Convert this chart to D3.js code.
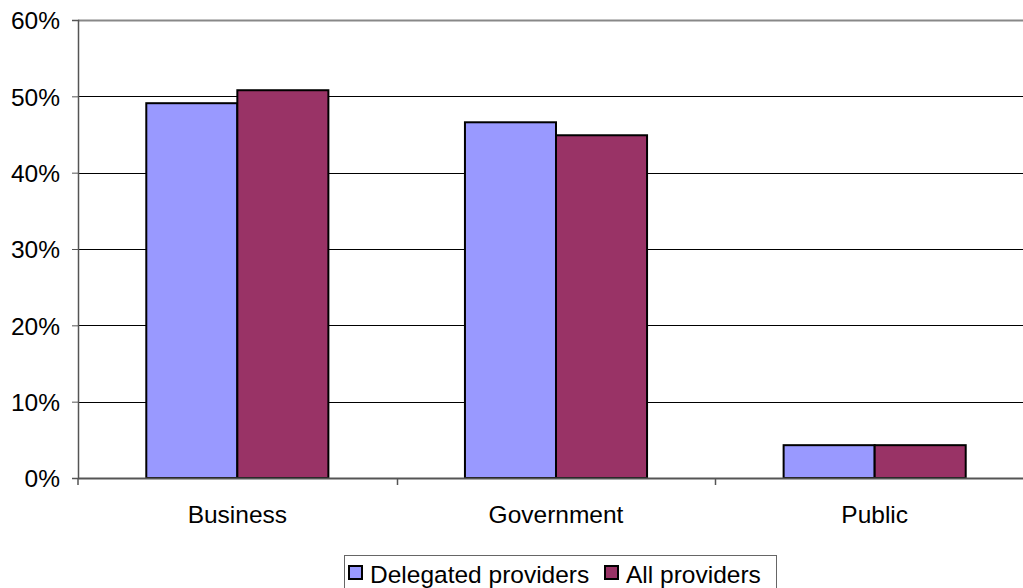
<!DOCTYPE html>
<html>
<head>
<meta charset="utf-8">
<script src="https://cdn.jsdelivr.net/npm/d3@7"></script>
<style>
  html, body { margin: 0; padding: 0; background: #fff; overflow: hidden; }
  svg { display: block; font-family: "Liberation Sans", Arial, sans-serif; }
</style>
</head>
<body>
<svg id="chart" width="1023" height="588"></svg>
<script>
// Share of providers by sector
const categories = ["Business", "Government", "Public"];
const seriesNames = ["Delegated providers", "All providers"];
const delegatedValues = [0.491, 0.466, 0.043];
const allValues = [0.508, 0.449, 0.043];
const yTicks = [0, 0.1, 0.2, 0.3, 0.4, 0.5, 0.6];
const seriesColors = ["#9999FF", "#993366"];

const FONT = 24.5;
const svg = d3.select("#chart");
const plot = { left: 78, right: 1034, top: 20, bottom: 478 };

const x = d3.scaleBand().domain(categories).range([plot.left, plot.right]).padding(0);
const bw = x.bandwidth();
const barW = bw / 3.5; // gap width of 150% between clusters
const xSeries = d3.scaleBand().domain(seriesNames)
  .range([(bw - 2 * barW) / 2, (bw + 2 * barW) / 2]).padding(0);
const y = d3.scaleLinear().domain([0, 0.6]).range([plot.bottom, plot.top]);

// Horizontal gridlines
svg.append("g").selectAll("line")
  .data(yTicks.filter(d => d > 0))
  .join("line")
  .attr("x1", plot.left).attr("x2", plot.right)
  .attr("y1", d => Math.round(y(d)) + 0.5).attr("y2", d => Math.round(y(d)) + 0.5)
  .attr("stroke", d => d === 0.6 ? "#888" : "#000")
  .attr("stroke-width", d => d === 0.6 ? 2 : 1);

// Y axis
const yAxis = d3.axisLeft(y).tickValues(yTicks).tickFormat(d3.format(".0%")).tickSize(6).tickPadding(12);
const gy = svg.append("g").attr("transform", `translate(${plot.left},0)`).call(yAxis);
gy.select(".domain").attr("stroke", "#555").attr("stroke-width", 1.5);
gy.selectAll(".tick line").attr("stroke", "#555");
gy.selectAll(".tick text").attr("font-size", FONT).attr("fill", "#000")
  .attr("font-family", "Liberation Sans, Arial, sans-serif").attr("dy", "0.36em");

// Bars
const rows = categories.map((c, i) => ({ cat: c, vals: [delegatedValues[i], allValues[i]] }));
svg.append("g").selectAll("g")
  .data(rows)
  .join("g")
  .attr("transform", d => `translate(${x(d.cat)},0)`)
  .selectAll("rect")
  .data(d => d.vals.map((v, j) => ({ name: seriesNames[j], v, j })))
  .join("rect")
  .attr("x", d => xSeries(d.name))
  .attr("width", xSeries.bandwidth())
  .attr("y", d => y(d.v))
  .attr("height", d => y(0) - y(d.v))
  .attr("fill", d => seriesColors[d.j])
  .attr("stroke", "#000")
  .attr("stroke-width", 2);

// X axis
const xAxis = d3.axisBottom(x).tickSize(0).tickPadding(28);
const gx = svg.append("g").attr("transform", `translate(0,${plot.bottom})`).call(xAxis);
gx.select(".domain").attr("stroke", "#555").attr("stroke-width", 2);
gx.selectAll(".tick text").attr("font-size", FONT).attr("fill", "#000")
  .attr("font-family", "Liberation Sans, Arial, sans-serif");
// Category separator ticks
gx.append("g").selectAll("line")
  .data(categories.slice(1))
  .join("line")
  .attr("x1", d => Math.round(x(d)) + 0.5).attr("x2", d => Math.round(x(d)) + 0.5)
  .attr("y1", 0).attr("y2", 7)
  .attr("stroke", "#555").attr("stroke-width", 1.5);
svg.append("line")
  .attr("x1", plot.left).attr("x2", plot.left)
  .attr("y1", plot.bottom).attr("y2", plot.bottom + 7)
  .attr("stroke", "#555").attr("stroke-width", 1.5);

// Legend
const legend = svg.append("g");
legend.append("rect")
  .attr("x", 344.5).attr("y", 555.5).attr("width", 432).attr("height", 60)
  .attr("fill", "#fff").attr("stroke", "#666").attr("stroke-width", 1);
const legendItems = [
  { name: seriesNames[0], color: seriesColors[0], x: 349 },
  { name: seriesNames[1], color: seriesColors[1], x: 605 }
];
const li = legend.selectAll("g.item").data(legendItems).join("g").attr("class", "item")
  .attr("transform", d => `translate(${d.x},0)`);
li.append("rect")
  .attr("x", 0).attr("y", 566).attr("width", 13).attr("height", 13)
  .attr("fill", d => d.color).attr("stroke", "#000").attr("stroke-width", 2);
li.append("text")
  .attr("x", 21).attr("y", 583)
  .attr("font-size", FONT).attr("fill", "#000")
  .text(d => d.name);
</script>
</body>
</html>
